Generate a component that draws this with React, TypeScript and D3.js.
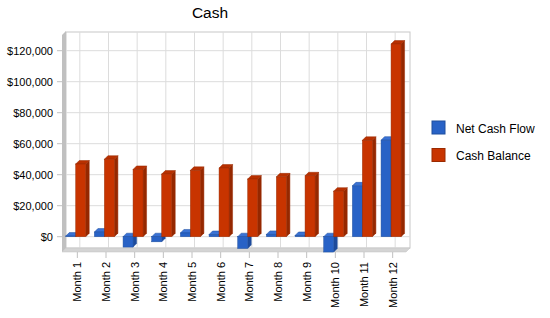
import * as d3 from "d3";

const months = ["Month 1", "Month 2", "Month 3", "Month 4", "Month 5", "Month 6", "Month 7", "Month 8", "Month 9", "Month 10", "Month 11", "Month 12"];
const netCashFlow = [400, 3000, -6700, -3300, 2400, 1400, -7600, 1500, 800, -9900, 32800, 62300];
const cashBalance = [46900, 50000, 43400, 40400, 42800, 44300, 37200, 38600, 39300, 29400, 62200, 124300];
const yTicks = [0, 20000, 40000, 60000, 80000, 100000, 120000];
const seriesNames = ["Net Cash Flow", "Cash Balance"];

const colors = [
  { front: "#2862c6", top: "#3a72d4", side: "#1d4b9c", stroke: "#1e4f9e" },
  { front: "#c83400", top: "#b83000", side: "#952800", stroke: "#9a2a00" },
];

const W = 550;
const H = 318;
const depth = 3.5;
const barW = 10;

export default function App() {
  const x = d3.scaleBand<string>().domain(months).range([63, 407]);
  const y = d3.scaleLinear().domain([0, 120000]).range([236.7, 50.7]);
  const fmt = (v: number) => "$" + d3.format(",")(v);

  const wallL = 66, wallR = 410, wallT = 32, wallB = 248;

  const bar = (cx: number, v: number, s: number, key: string) => {
    const c = colors[s];
    const bx = cx - 11.6 + s * barW;
    const y0 = y(0);
    const yv = y(v);
    const top = Math.min(y0, yv);
    const bot = Math.max(y0, yv);
    const d = depth;
    const topFace = [[bx, top], [bx + d, top - d], [bx + barW + d, top - d], [bx + barW, top]];
    const sideFace = [[bx + barW, top], [bx + barW + d, top - d], [bx + barW + d, bot - d], [bx + barW, bot]];
    const pts = (p: number[][]) => p.map((q) => q.join(",")).join(" ");
    return (
      <g key={key}>
        <polygon points={pts(sideFace)} fill={c.side} stroke={c.stroke} strokeWidth={0.5} />
        <polygon points={pts(topFace)} fill={c.top} stroke={c.stroke} strokeWidth={0.5} />
        <rect x={bx} y={top} width={barW} height={Math.max(bot - top, 0.5)} fill={c.front} stroke={c.stroke} strokeWidth={0.5} />
      </g>
    );
  };

  return (
    <svg width={W} height={H} style={{ position: "absolute", left: 0, top: 0, fontFamily: "'Liberation Sans', Arial, sans-serif" }}>
      <rect width={W} height={H} fill="#fff" />
      <text x={210} y={17.5} textAnchor="middle" fontSize={15.5} fill="#000">Cash</text>

      {/* back wall */}
      <rect x={wallL} y={wallT} width={wallR - wallL} height={wallB - wallT} fill="#fff" stroke="#c8c8c8" />
      {months.map((m) => (
        <line key={"vg" + m} x1={x(m)! + x.bandwidth() / 2 + 2.5} x2={x(m)! + x.bandwidth() / 2 + 2.5} y1={wallT} y2={wallB} stroke="#dcdcdc" />
      ))}
      {yTicks.map((t) => (
        <g key={"hg" + t}>
          <line x1={wallL} x2={wallR} y1={y(t)} y2={y(t)} stroke="#dcdcdc" />
          <line x1={57} x2={63} y1={y(t)} y2={y(t)} stroke="#c0c0c0" />
          <text x={53} y={y(t)} dy="0.35em" textAnchor="end" fontSize={11} fill="#000">{fmt(t)}</text>
        </g>
      ))}

      {/* side wall and floor */}
      <polygon points={`62,35 66,31 66,${wallB} 62,${wallB + 4}`} fill="#c0c0c0" />
      <polygon points={`62,${wallB + 4} 66,${wallB} ${wallR},${wallB} ${wallR - 4},${wallB + 4}`} fill="#d4d4d4" stroke="#c0c0c0" strokeWidth={0.5} />

      {/* bars */}
      {months.map((m, i) => {
        const cx = x(m)! + x.bandwidth() / 2;
        return (
          <g key={"b" + m}>
            {bar(cx, netCashFlow[i], 0, "n" + i)}
            {bar(cx, cashBalance[i], 1, "c" + i)}
          </g>
        );
      })}

      {/* x axis */}
      {months.map((m) => {
        const cx = x(m)! + x.bandwidth() / 2;
        return (
          <g key={"xl" + m}>
            <line x1={cx} x2={cx} y1={252} y2={258} stroke="#c0c0c0" />
            <text transform={`translate(${cx + 4},262) rotate(-90)`} textAnchor="end" fontSize={11} fill="#000">{m}</text>
          </g>
        );
      })}

      {/* legend */}
      {seriesNames.map((n, i) => (
        <g key={"lg" + n} transform={`translate(432,${121 + i * 27.5})`}>
          <rect width={13} height={13} fill={colors[i].front} stroke={colors[i].stroke} />
          <text x={24} y={11.5} fontSize={12} fill="#000">{n}</text>
        </g>
      ))}
    </svg>
  );
}
